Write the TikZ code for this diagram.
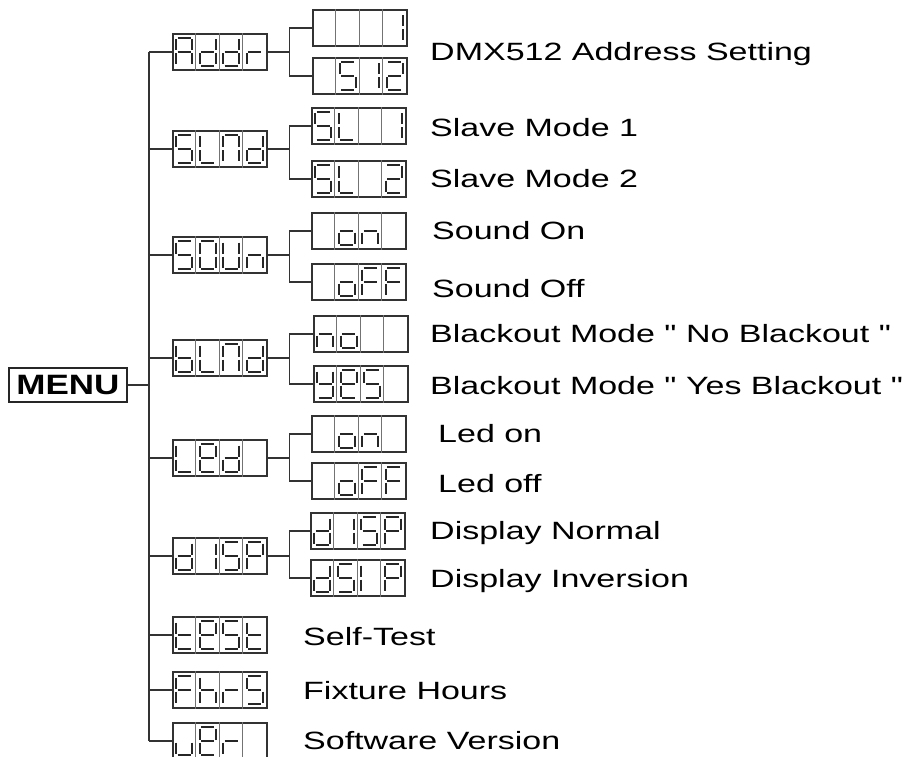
\documentclass[tikz,border=0pt]{standalone}
\usepackage{fontspec}
\newfontfamily\lblfont[FakeStretch=1.36]{Liberation Sans}
\newfontfamily\menufont[FakeStretch=1.25]{Liberation Sans}

% seven segment characters (segments a..g)
\newcommand{\sgA}{a,b,c,e,f,g}
\newcommand{\sgd}{b,c,d,e,g}
\newcommand{\sgr}{e,g}
\newcommand{\sgS}{a,f,g,c,d}
\newcommand{\sgL}{d,e,f}
\newcommand{\sgN}{a,b,c,e,f}
\newcommand{\sgO}{a,b,c,d,e,f}
\newcommand{\sgU}{b,c,d,e,f}
\newcommand{\sgn}{c,e,g}
\newcommand{\sgb}{c,d,e,f,g}
\newcommand{\sge}{a,b,d,e,f,g}
\newcommand{\sgI}{b,c}
\newcommand{\sgi}{e,f}
\newcommand{\sgP}{a,b,e,f,g}
\newcommand{\sgt}{d,e,f,g}
\newcommand{\sgF}{a,e,f,g}
\newcommand{\sgh}{c,e,f,g}
\newcommand{\sgu}{c,d,e}
\newcommand{\sgo}{c,d,e,g}
\newcommand{\sgy}{b,c,d,f,g}
\newcommand{\sgtwo}{a,b,g,e,d}
\let\nochar\relax

\tikzset{
  lcdbox/.style={draw=black!80,line width=1.4pt,rectangle,minimum width=94pt,minimum height=36pt,inner sep=0pt},
  celline/.style={black!55,line width=0.9pt},
  segline/.style={black!85,line width=2pt},
  wire/.style={black!80,line width=1.3pt},
  lbl/.style={anchor=base west,inner sep=0pt,font=\lblfont\fontsize{25}{30}\selectfont},
}

\newcommand{\glyph}[3]{\ifx#3\nochar\else
  \begin{scope}[shift={(#1.west)},xshift={(#2-0.5)*23.5pt}]
    \path (-6.5,-14) coordinate (sa1) (6.5,-14) coordinate (sa2)
      (8,-12.5) coordinate (sb1) (8,-1.5) coordinate (sb2)
      (8,1.5) coordinate (sc1) (8,12.5) coordinate (sc2)
      (-6.5,14) coordinate (sd1) (6.5,14) coordinate (sd2)
      (-8,1.5) coordinate (se1) (-8,12.5) coordinate (se2)
      (-8,-12.5) coordinate (sf1) (-8,-1.5) coordinate (sf2)
      (-6.5,0) coordinate (sg1) (6.5,0) coordinate (sg2);
    \foreach \s in #3 {\draw[segline] (s\s1) -- (s\s2);}
  \end{scope}\fi}

\newcommand{\lcd}[7]{%
  \node[lcdbox] (#1) at (#2+47,#3) {};
  \foreach \k in {1,2,3}
    \draw[celline] ([xshift=\k*23.5pt]#1.north west) -- ([xshift=\k*23.5pt]#1.south west);
  \glyph{#1}{1}{#4}\glyph{#1}{2}{#5}\glyph{#1}{3}{#6}\glyph{#1}{4}{#7}}

\newcommand{\branch}[3]{\draw[wire] (#1.east) -- ++(22,0) coordinate (j) |- (#2.west) (j) |- (#3.west);}

\begin{document}
\begin{tikzpicture}[x=1pt,y=-1pt]
  \useasboundingbox (0,0) rectangle (921,757);
  \clip (0,0) rectangle (921,757);
  % menu
  \node[draw=black!85,line width=1.4pt,minimum width=118pt,minimum height=34pt,inner sep=0pt,
    font=\menufont\bfseries\fontsize{28}{30}\selectfont] (menu) at (68,385) {MENU};
  \coordinate (bus) at (149,0);
  % first level
  \lcd{addr}{173}{52}{\sgA}{\sgd}{\sgd}{\sgr}
  \lcd{slmd}{173}{149}{\sgS}{\sgL}{\sgN}{\sgd}
  \lcd{soun}{173}{255}{\sgS}{\sgO}{\sgU}{\sgn}
  \lcd{blnd}{173}{358}{\sgb}{\sgL}{\sgN}{\sgd}
  \lcd{led}{173}{458}{\sgL}{\sge}{\sgd}{\nochar}
  \lcd{disp}{173}{556}{\sgd}{\sgI}{\sgS}{\sgP}
  \lcd{test}{173}{635}{\sgt}{\sge}{\sgS}{\sgt}
  \lcd{fhrs}{173}{690}{\sgF}{\sgh}{\sgr}{\sgS}
  \lcd{ver}{173}{741}{\sgu}{\sge}{\sgr}{\nochar}
  % second level
  \lcd{addr1}{313}{28}{\nochar}{\nochar}{\nochar}{\sgI}
  \lcd{addr2}{313}{76}{\nochar}{\sgS}{\sgI}{\sgtwo}
  \lcd{slmd1}{312}{126}{\sgS}{\sgL}{\nochar}{\sgI}
  \lcd{slmd2}{312}{179}{\sgS}{\sgL}{\nochar}{\sgtwo}
  \lcd{soun1}{312}{231}{\nochar}{\sgo}{\sgn}{\nochar}
  \lcd{soun2}{312}{282}{\nochar}{\sgo}{\sgF}{\sgF}
  \lcd{blnd1}{314}{334}{\sgn}{\sgo}{\nochar}{\nochar}
  \lcd{blnd2}{314}{384}{\sgy}{\sge}{\sgS}{\nochar}
  \lcd{led1}{312}{434}{\nochar}{\sgo}{\sgn}{\nochar}
  \lcd{led2}{312}{481}{\nochar}{\sgo}{\sgF}{\sgF}
  \lcd{disp1}{311}{531}{\sgd}{\sgI}{\sgS}{\sgP}
  \lcd{disp2}{311}{578}{\sgd}{\sgS}{\sgi}{\sgP}
  % connectors
  \draw[wire] (menu.east) -- (bus |- menu.east);
  \draw[wire] (bus |- addr.west) -- (bus |- ver.west);
  \foreach \n in {addr,slmd,soun,blnd,led,disp,test,fhrs,ver}
    \draw[wire] (bus |- \n.west) -- (\n.west);
  \branch{addr}{addr1}{addr2}
  \branch{slmd}{slmd1}{slmd2}
  \branch{soun}{soun1}{soun2}
  \branch{blnd}{blnd1}{blnd2}
  \branch{led}{led1}{led2}
  \branch{disp}{disp1}{disp2}
  % labels
  \node[lbl] (tdmx) at (430,61) {DMX512 Address Setting};
  \node[lbl] (tsl1) at (430,137) {Slave Mode 1};
  \node[lbl] (tsl2) at (430,187) {Slave Mode 2};
  \node[lbl] (tson) at (432,239) {Sound On};
  \node[lbl] (tsoff) at (432,297) {Sound Off};
  \node[lbl] (tbno) at (430,342) {Blackout Mode " No Blackout "};
  \node[lbl] (tbyes) at (430,394) {Blackout Mode " Yes Blackout "};
  \node[lbl] (tlon) at (438,442) {Led on};
  \node[lbl] (tloff) at (438,492) {Led off};
  \node[lbl] (tdn) at (430,539) {Display Normal};
  \node[lbl] (tdi) at (430,587) {Display Inversion};
  \node[lbl] (ttest) at (303,645) {Self-Test};
  \node[lbl] (thrs) at (303,699) {Fixture Hours};
  \node[lbl] (tver) at (303,749) {Software Version};
\end{tikzpicture}
\end{document}
